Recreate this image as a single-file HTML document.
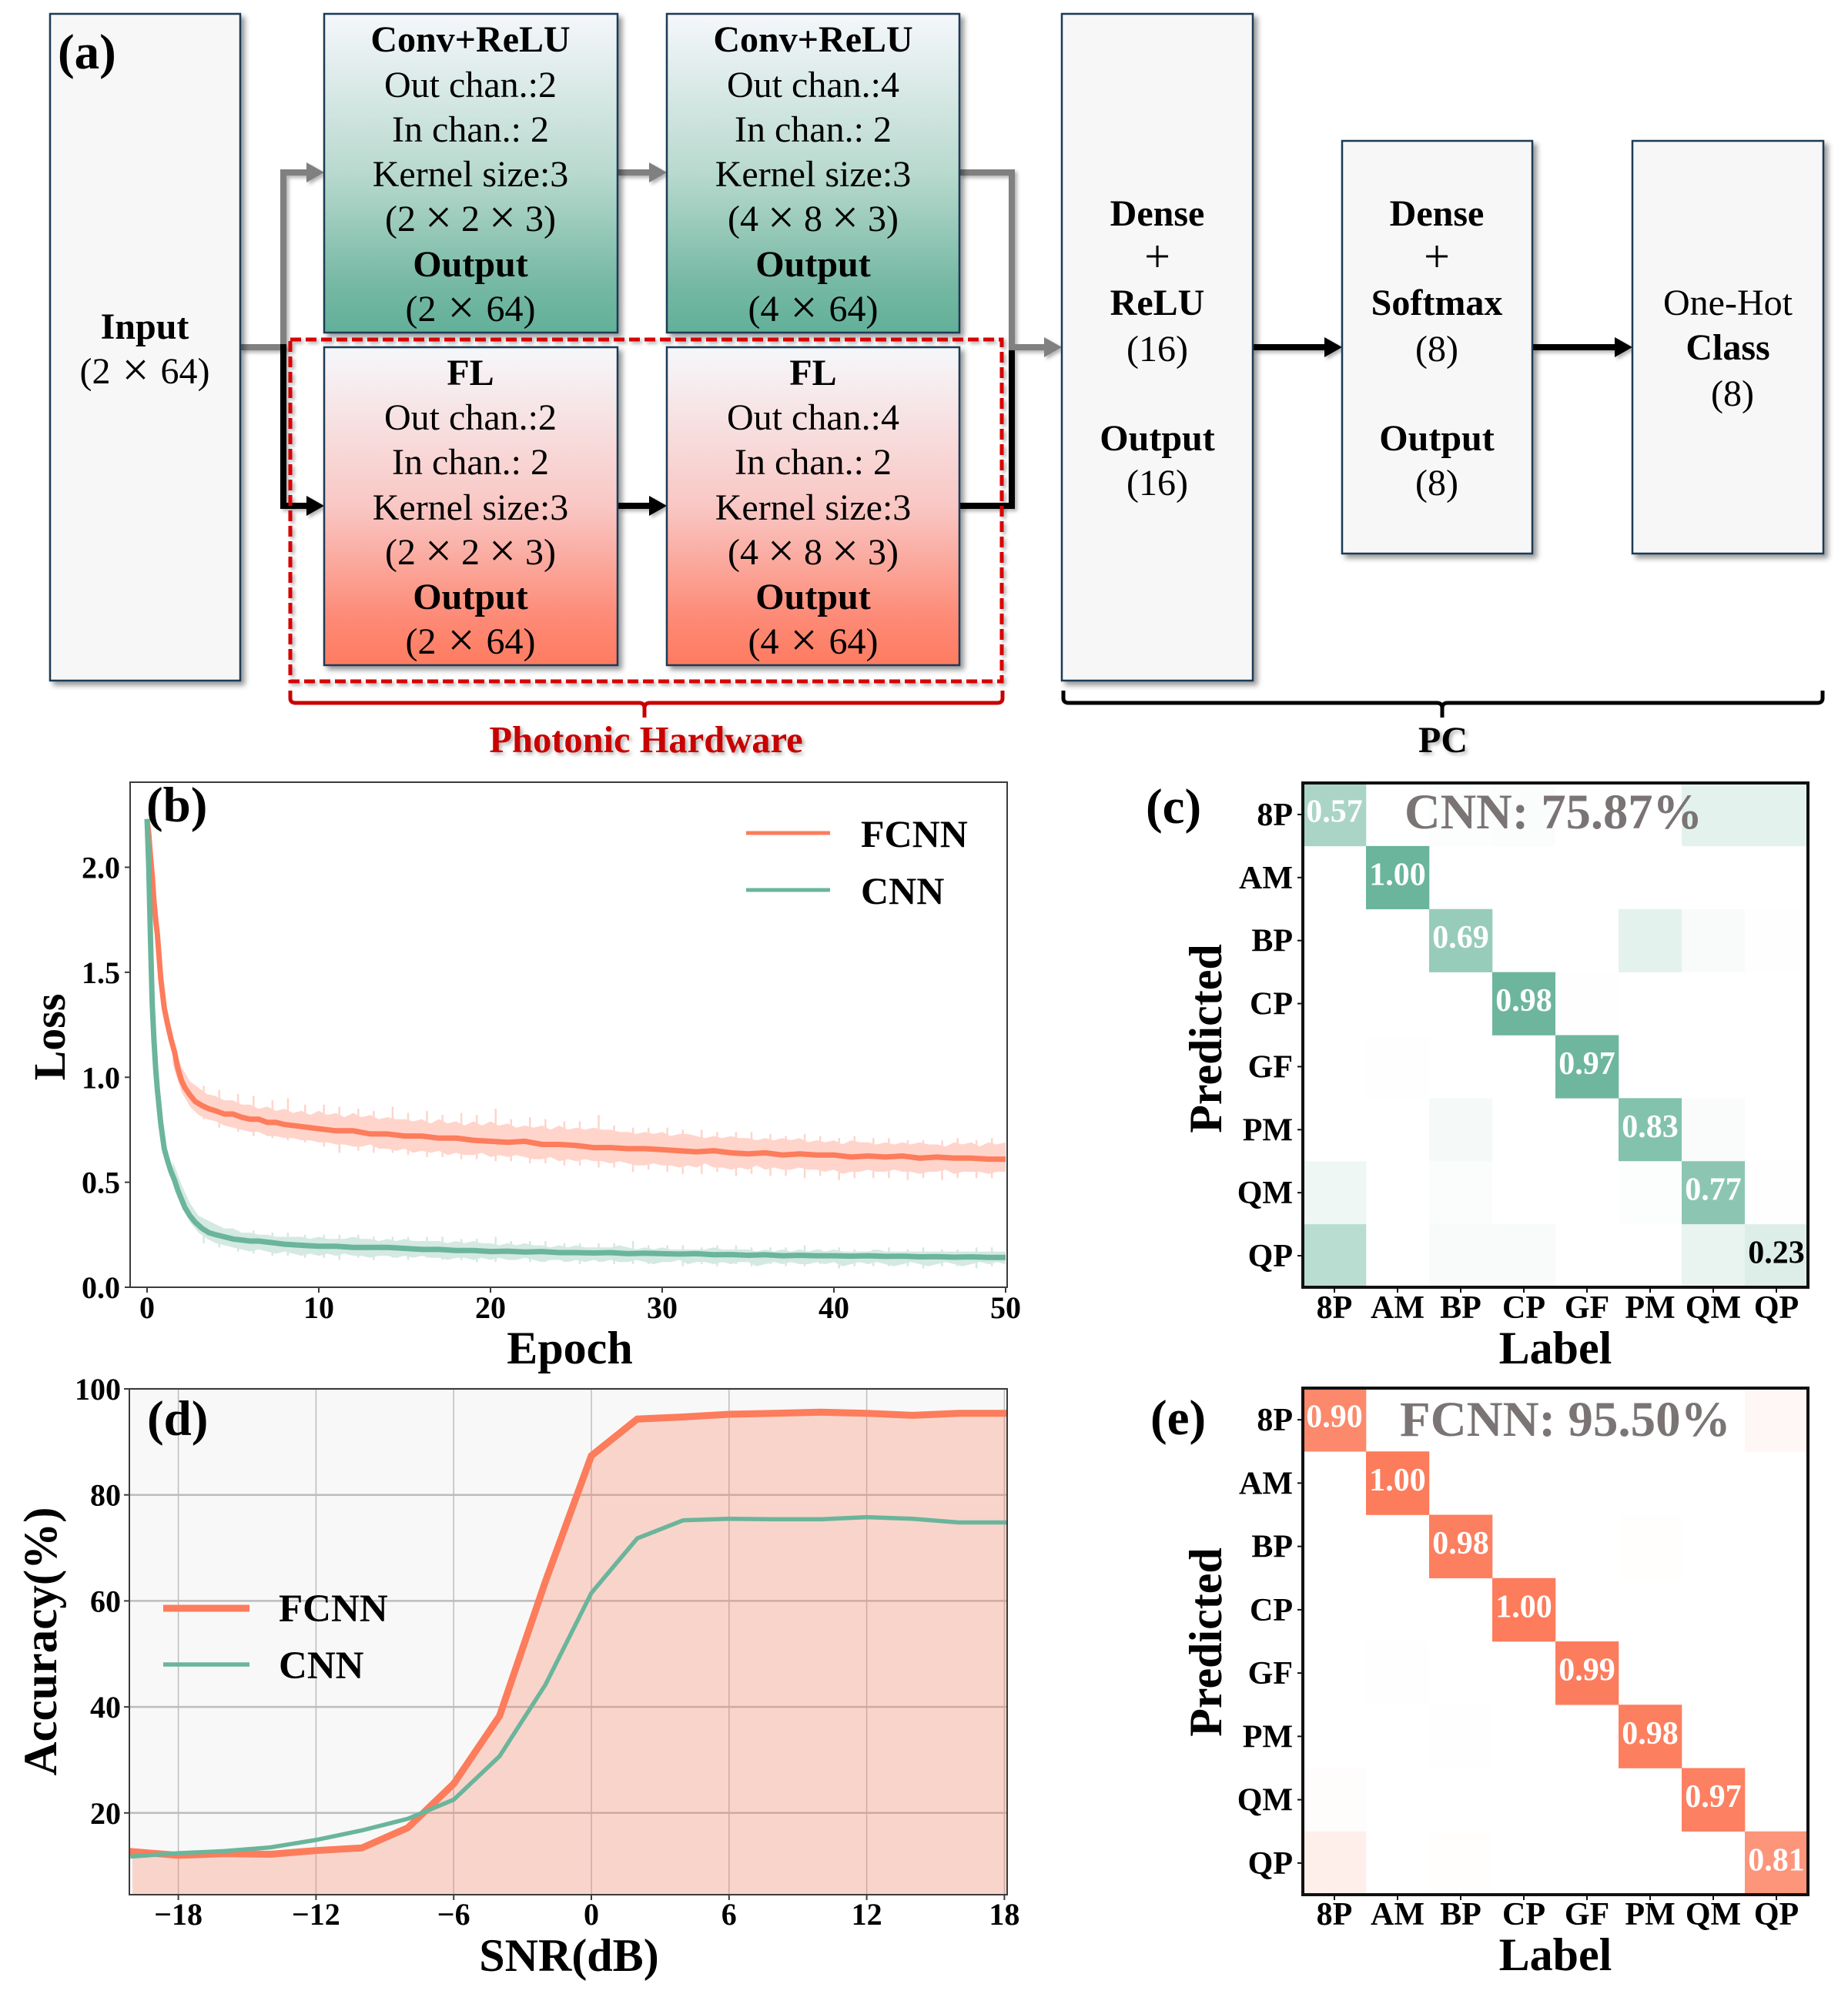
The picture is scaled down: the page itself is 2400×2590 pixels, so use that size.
<!DOCTYPE html>
<html lang="en">
<head>
<meta charset="utf-8">
<title>FCNN and CNN architecture and results</title>
<style>
html,body{margin:0;padding:0;background:#fff;}
svg{display:block;}
text{font-family:"Liberation Serif","Times New Roman",serif;fill:#000;}
.b{font-weight:bold;}
.box text,.lbl{font-size:48px;text-anchor:middle;}
.x{font-size:62px;baseline-shift:-3px;}
.sp{word-spacing:3px;}
</style>
</head>
<body>
<svg id="figure" xmlns="http://www.w3.org/2000/svg" width="2400" height="2590" viewBox="0 0 2400 2590">
<defs>
<linearGradient id="gradConv" x1="0" y1="0" x2="0" y2="1"><stop offset="0" stop-color="#F5F7FB"/><stop offset="0.5" stop-color="#B8D9CE"/><stop offset="0.85" stop-color="#75B8A3"/><stop offset="1" stop-color="#62B098"/></linearGradient>
<linearGradient id="gradFl" x1="0" y1="0" x2="0" y2="1"><stop offset="0" stop-color="#F5F7FB"/><stop offset="0.5" stop-color="#F9C7C4"/><stop offset="0.85" stop-color="#FD8A76"/><stop offset="1" stop-color="#FF7B60"/></linearGradient>
<filter id="shadow" x="-10%" y="-10%" width="125%" height="125%"><feDropShadow dx="5" dy="5" stdDeviation="3.5" flood-color="#000" flood-opacity="0.4"/></filter>
<filter id="lineShadow" x="-10%" y="-20%" width="125%" height="150%"><feDropShadow dx="3" dy="3" stdDeviation="2.5" flood-color="#000" flood-opacity="0.3"/></filter>
<clipPath id="clipB"><rect x="169" y="1016" width="1139" height="656"/></clipPath>
<clipPath id="clipD"><rect x="168" y="1804" width="1140" height="657"/></clipPath>
</defs>

<g id="panel-a">
  <g filter="url(#lineShadow)" fill="none" stroke="#808080" stroke-width="8">
    <polyline points="312,451 368,451 368,224 402,224"/>
    <line x1="802" y1="224" x2="846" y2="224"/>
    <polyline points="1246,224 1314,224 1314,451 1360,451"/>
    <polygon points="398,211 421,224 398,237" fill="#808080" stroke="none"/>
    <polygon points="843,211 866,224 843,237" fill="#808080" stroke="none"/>
    <polygon points="1356,438 1379,451 1356,464" fill="#808080" stroke="none"/>
  </g>
  <g fill="none" stroke="#000" stroke-width="8" filter="url(#lineShadow)">
    <polyline points="368,447 368,657 402,657"/>
    <line x1="802" y1="657" x2="846" y2="657"/>
    <polyline points="1246,657 1314,657 1314,455"/>
    <polygon points="398,644 421,657 398,670" fill="#000" stroke="none"/>
    <polygon points="843,644 866,657 843,670" fill="#000" stroke="none"/>
    <line x1="1627" y1="451" x2="1725" y2="451"/>
    <polygon points="1720,438 1743,451 1720,464" fill="#000" stroke="none"/>
    <line x1="1990" y1="451" x2="2100" y2="451"/>
    <polygon points="2097,438 2120,451 2097,464" fill="#000" stroke="none"/>
  </g>

  <g class="box">
    <rect x="65" y="18" width="247" height="866" fill="#F7F7F7" stroke="#1D3A56" stroke-width="2.5" filter="url(#shadow)"/>
    <text class="b" x="188" y="440">Input</text>
    <text class="sp" x="188" y="498">(2 <tspan class="x">×</tspan> 64)</text>
  </g>
  <text class="b" x="75" y="89" font-size="65">(a)</text>

  <g class="box">
    <rect x="421" y="18" width="381" height="414" fill="url(#gradConv)" stroke="#1D3A56" stroke-width="2.5" filter="url(#shadow)"/>
    <text class="b" x="611" y="67">Conv+ReLU</text>
    <text x="611" y="126">Out chan.:2</text>
    <text x="611" y="184">In chan.: 2</text>
    <text x="611" y="242">Kernel size:3</text>
    <text x="611" y="300">(2 <tspan class="x">×</tspan> 2 <tspan class="x">×</tspan> 3)</text>
    <text class="b" x="611" y="359">Output</text>
    <text class="sp" x="611" y="417">(2 <tspan class="x">×</tspan> 64)</text>
  </g>
  <g class="box">
    <rect x="866" y="18" width="380" height="414" fill="url(#gradConv)" stroke="#1D3A56" stroke-width="2.5" filter="url(#shadow)"/>
    <text class="b" x="1056" y="67">Conv+ReLU</text>
    <text x="1056" y="126">Out chan.:4</text>
    <text x="1056" y="184">In chan.: 2</text>
    <text x="1056" y="242">Kernel size:3</text>
    <text x="1056" y="300">(4 <tspan class="x">×</tspan> 8 <tspan class="x">×</tspan> 3)</text>
    <text class="b" x="1056" y="359">Output</text>
    <text class="sp" x="1056" y="417">(4 <tspan class="x">×</tspan> 64)</text>
  </g>
  <g class="box">
    <rect x="421" y="451" width="381" height="413" fill="url(#gradFl)" stroke="#1D3A56" stroke-width="2.5" filter="url(#shadow)"/>
    <text class="b" x="611" y="500">FL</text>
    <text x="611" y="558">Out chan.:2</text>
    <text x="611" y="616">In chan.: 2</text>
    <text x="611" y="675">Kernel size:3</text>
    <text x="611" y="733">(2 <tspan class="x">×</tspan> 2 <tspan class="x">×</tspan> 3)</text>
    <text class="b" x="611" y="791">Output</text>
    <text class="sp" x="611" y="849">(2 <tspan class="x">×</tspan> 64)</text>
  </g>
  <g class="box">
    <rect x="866" y="451" width="380" height="413" fill="url(#gradFl)" stroke="#1D3A56" stroke-width="2.5" filter="url(#shadow)"/>
    <text class="b" x="1056" y="500">FL</text>
    <text x="1056" y="558">Out chan.:4</text>
    <text x="1056" y="616">In chan.: 2</text>
    <text x="1056" y="675">Kernel size:3</text>
    <text x="1056" y="733">(4 <tspan class="x">×</tspan> 8 <tspan class="x">×</tspan> 3)</text>
    <text class="b" x="1056" y="791">Output</text>
    <text class="sp" x="1056" y="849">(4 <tspan class="x">×</tspan> 64)</text>
  </g>

  <rect x="377" y="441" width="924" height="444" fill="none" stroke="#D80000" stroke-width="5" stroke-dasharray="14 6" filter="url(#lineShadow)"/>
  <path d="M377 897 V907 Q377 913 384 913 H830 Q837 913 837 920 V932 M837 920 Q837 913 844 913 H1295 Q1302 913 1302 907 V897" fill="none" stroke="#C80000" stroke-width="5"/>
  <text class="b" x="839" y="977" font-size="48.5" text-anchor="middle" style="fill:#C80000" filter="url(#lineShadow)">Photonic Hardware</text>

  <g class="box">
    <rect x="1379" y="18" width="248" height="866" fill="#F7F7F7" stroke="#1D3A56" stroke-width="2.5" filter="url(#shadow)"/>
    <text class="b" x="1503" y="293">Dense</text>
    <text x="1503" y="353" style="font-size:60px">+</text>
    <text class="b" x="1503" y="409">ReLU</text>
    <text x="1503" y="469">(16)</text>
    <text class="b" x="1503" y="585">Output</text>
    <text x="1503" y="643">(16)</text>
  </g>
  <g class="box">
    <rect x="1743" y="183" width="247" height="536" fill="#F7F7F7" stroke="#1D3A56" stroke-width="2.5" filter="url(#shadow)"/>
    <text class="b" x="1866" y="293">Dense</text>
    <text x="1866" y="353" style="font-size:60px">+</text>
    <text class="b" x="1866" y="409">Softmax</text>
    <text x="1866" y="469">(8)</text>
    <text class="b" x="1866" y="585">Output</text>
    <text x="1866" y="643">(8)</text>
  </g>
  <g class="box">
    <rect x="2120" y="183" width="248" height="536" fill="#F7F7F7" stroke="#1D3A56" stroke-width="2.5" filter="url(#shadow)"/>
    <text x="2244" y="409">One-Hot</text>
    <text class="b" x="2244" y="467">Class</text>
    <text x="2250" y="527">(8)</text>
  </g>
  <path d="M1381 897 V907 Q1381 913 1388 913 H1866 Q1873 913 1873 920 V932 M1873 920 Q1873 913 1880 913 H2360 Q2367 913 2367 907 V897" fill="none" stroke="#000" stroke-width="5"/>
  <text class="b" x="1874" y="977" font-size="48" text-anchor="middle" filter="url(#lineShadow)">PC</text>
</g>

<g id="panel-b"></g>
<g id="panel-c"></g>
<g id="panel-d"></g>
<g id="panel-e"></g>
</svg>

<script>
/* ---------- panel (b) data ---------- */
const lossEpochTicks = [0, 10, 20, 30, 40, 50];
const lossValueTicks = [0.0, 0.5, 1.0, 1.5, 2.0];
const meanEpochs = [0,0.1,0.2,0.3,0.4,0.5,0.6,0.8,1,1.2,1.4,1.6,1.8,2,2.2,2.5,2.8,3.2,3.6,4,4.5,5,5.5,6,6.5,7,7.5,8,9,10,11,12,13,14,15,16,17,18,19,20,21,22,23,24,25,26,27,28,29,30,31,32,33,34,35,36,37,38,39,40,41,42,43,44,45,46,47,48,49,50];
const fcnnMeanLoss = [2.23,2.16,2.05,1.96,1.84,1.75,1.68,1.47,1.33,1.25,1.18,1.12,1.04,0.985,0.95,0.915,0.885,0.865,0.85,0.84,0.825,0.825,0.81,0.80,0.80,0.785,0.785,0.775,0.765,0.755,0.745,0.745,0.73,0.73,0.72,0.72,0.71,0.71,0.70,0.695,0.69,0.695,0.68,0.68,0.675,0.665,0.665,0.66,0.66,0.655,0.65,0.645,0.65,0.64,0.635,0.64,0.63,0.635,0.63,0.63,0.62,0.625,0.62,0.625,0.615,0.62,0.615,0.615,0.61,0.61];
const cnnMeanLoss = [2.23,2.0,1.65,1.35,1.18,1.04,0.94,0.78,0.66,0.60,0.55,0.51,0.46,0.42,0.38,0.34,0.31,0.28,0.26,0.25,0.24,0.23,0.225,0.22,0.22,0.215,0.21,0.205,0.20,0.195,0.195,0.19,0.19,0.19,0.185,0.18,0.18,0.175,0.175,0.17,0.172,0.168,0.17,0.165,0.165,0.163,0.165,0.16,0.162,0.16,0.158,0.16,0.155,0.156,0.152,0.155,0.15,0.152,0.15,0.15,0.148,0.15,0.147,0.148,0.145,0.146,0.143,0.145,0.142,0.142];
const bandEpochs = [1.5,2,2.5,3,3.5,4,4.5,5,5.5,6,6.5,7,7.5,8,8.5,9,9.5,10,10.5,11,11.5,12,12.5,13,13.5,14,14.5,15,15.5,16,16.5,17,17.5,18,18.5,19,19.5,20,20.5,21,21.5,22,22.5,23,23.5,24,24.5,25,25.5,26,26.5,27,27.5,28,28.5,29,29.5,30,30.5,31,31.5,32,32.5,33,33.5,34,34.5,35,35.5,36,36.5,37,37.5,38,38.5,39,39.5,40,40.5,41,41.5,42,42.5,43,43.5,44,44.5,45,45.5,46,46.5,47,47.5,48,48.5,49,49.5,50];
const fcnnUpperLoss = [1.16,1.05,0.98,0.95,0.92,0.91,0.89,0.89,0.87,0.87,0.85,0.86,0.84,0.85,0.83,0.84,0.82,0.84,0.82,0.83,0.81,0.83,0.81,0.82,0.80,0.81,0.80,0.80,0.79,0.80,0.78,0.80,0.78,0.79,0.77,0.79,0.77,0.79,0.77,0.78,0.76,0.77,0.76,0.77,0.75,0.77,0.75,0.76,0.75,0.76,0.75,0.75,0.74,0.74,0.73,0.74,0.73,0.74,0.72,0.73,0.73,0.72,0.71,0.72,0.71,0.72,0.71,0.71,0.70,0.71,0.70,0.71,0.70,0.71,0.69,0.70,0.69,0.70,0.68,0.70,0.69,0.69,0.68,0.69,0.68,0.69,0.68,0.69,0.68,0.68,0.67,0.69,0.68,0.69,0.67,0.69,0.68,0.69];
const fcnnLowerLoss = [1.06,0.93,0.86,0.82,0.80,0.79,0.77,0.76,0.75,0.74,0.74,0.72,0.72,0.71,0.71,0.70,0.70,0.69,0.69,0.68,0.68,0.67,0.67,0.68,0.66,0.66,0.65,0.66,0.64,0.65,0.64,0.65,0.63,0.64,0.63,0.63,0.64,0.62,0.63,0.62,0.63,0.62,0.61,0.61,0.62,0.60,0.61,0.60,0.61,0.60,0.60,0.59,0.60,0.59,0.58,0.58,0.59,0.58,0.58,0.57,0.58,0.57,0.59,0.57,0.57,0.56,0.57,0.56,0.58,0.56,0.57,0.56,0.56,0.57,0.56,0.56,0.55,0.56,0.54,0.55,0.55,0.56,0.55,0.55,0.56,0.55,0.55,0.54,0.55,0.55,0.56,0.54,0.55,0.55,0.55,0.54,0.55,0.55];
const cnnUpperLoss = [0.60,0.49,0.40,0.34,0.32,0.30,0.28,0.28,0.26,0.26,0.25,0.25,0.24,0.24,0.24,0.24,0.23,0.24,0.23,0.23,0.23,0.24,0.23,0.23,0.22,0.23,0.22,0.23,0.22,0.22,0.22,0.22,0.21,0.22,0.21,0.22,0.21,0.21,0.20,0.21,0.20,0.21,0.20,0.20,0.19,0.20,0.19,0.20,0.19,0.19,0.19,0.19,0.20,0.19,0.18,0.19,0.18,0.19,0.18,0.18,0.18,0.18,0.18,0.19,0.18,0.18,0.18,0.18,0.17,0.18,0.17,0.18,0.17,0.18,0.17,0.18,0.17,0.18,0.17,0.17,0.17,0.17,0.18,0.17,0.17,0.17,0.17,0.17,0.17,0.17,0.17,0.17,0.17,0.17,0.17,0.17,0.17,0.17];
const cnnLowerLoss = [0.50,0.39,0.31,0.26,0.23,0.21,0.20,0.19,0.18,0.17,0.18,0.17,0.16,0.17,0.16,0.15,0.16,0.15,0.16,0.15,0.16,0.15,0.15,0.14,0.15,0.15,0.14,0.15,0.14,0.15,0.14,0.14,0.13,0.14,0.14,0.13,0.14,0.13,0.14,0.13,0.13,0.14,0.13,0.12,0.13,0.13,0.12,0.13,0.12,0.13,0.12,0.13,0.12,0.12,0.13,0.12,0.11,0.12,0.12,0.13,0.11,0.12,0.12,0.11,0.12,0.11,0.12,0.12,0.10,0.11,0.12,0.11,0.12,0.11,0.11,0.12,0.11,0.12,0.10,0.11,0.12,0.11,0.12,0.11,0.10,0.11,0.12,0.11,0.10,0.11,0.12,0.11,0.10,0.11,0.12,0.11,0.12,0.11];
const spikeEpochs = [3.3,4.2,5.3,6.2,7.3,8.2,9.2,10.3,11.2,12.3,13.2,14.3,15.2,16.3,17.2,18.3,19.2,20.3,21.2,22.3,23.2,24.3,25.2,26.3,27.2,28.3,29.2,30.3,31.2,32.3,33.2,34.3,35.2,36.3,37.2,38.3,39.2,40.3,41.2,42.3,43.2,44.3,45.2,46.3,47.2,48.3,49.2];
const fcnnSpikeHigh = [0.96,0.94,0.92,0.91,0.89,0.90,0.87,0.87,0.86,0.85,0.84,0.86,0.83,0.84,0.82,0.83,0.82,0.85,0.80,0.81,0.80,0.79,0.79,0.82,0.77,0.76,0.76,0.76,0.75,0.75,0.74,0.74,0.74,0.73,0.72,0.73,0.72,0.71,0.72,0.71,0.71,0.70,0.70,0.70,0.71,0.70,0.71];
const fcnnSpikeLow = [0.80,0.76,0.74,0.72,0.71,0.70,0.69,0.67,0.64,0.65,0.64,0.64,0.63,0.62,0.62,0.61,0.61,0.60,0.60,0.59,0.59,0.58,0.58,0.57,0.57,0.55,0.56,0.55,0.54,0.54,0.55,0.53,0.54,0.53,0.53,0.52,0.53,0.51,0.52,0.52,0.52,0.51,0.52,0.51,0.52,0.52,0.52];
const cnnSpikeHigh = [0.31,0.29,0.27,0.27,0.26,0.26,0.25,0.25,0.25,0.25,0.24,0.24,0.24,0.24,0.24,0.23,0.23,0.24,0.22,0.22,0.22,0.21,0.21,0.21,0.21,0.22,0.20,0.20,0.20,0.19,0.20,0.20,0.19,0.19,0.19,0.20,0.18,0.19,0.18,0.18,0.19,0.18,0.19,0.18,0.18,0.19,0.19];
const cnnSpikeLow = [0.21,0.19,0.17,0.16,0.15,0.15,0.14,0.14,0.13,0.14,0.13,0.14,0.13,0.14,0.13,0.13,0.12,0.12,0.13,0.12,0.12,0.12,0.11,0.12,0.11,0.11,0.11,0.12,0.10,0.11,0.10,0.11,0.10,0.11,0.10,0.10,0.11,0.09,0.10,0.10,0.10,0.10,0.09,0.10,0.10,0.09,0.10];

/* ---------- panel (d) data ---------- */
const snrValues = [-20,-18,-16,-14,-12,-10,-8,-6,-4,-2,0,2,4,6,8,10,12,14,16,18];
const fcnnAccuracy = [12.7,12.0,12.3,12.2,12.9,13.4,17.2,25.5,38.3,63.7,87.4,94.3,94.7,95.2,95.4,95.6,95.4,95.0,95.4,95.4];
const cnnAccuracy = [11.8,12.4,12.8,13.5,14.9,16.7,18.9,22.5,30.7,44.2,61.5,71.8,75.2,75.5,75.4,75.4,75.8,75.5,74.8,74.8];
const snrTicks = [-18,-12,-6,0,6,12,18];
const accuracyTicks = [20,40,60,80,100];

/* ---------- panels (c) and (e) data ---------- */
const classLabels = ['8P','AM','BP','CP','GF','PM','QM','QP'];
const cnnMatrix = [
  [0.57,0,0.02,0.03,0,0,0.18,0.18],
  [0,1.00,0,0,0,0,0,0],
  [0,0,0.69,0,0,0.18,0.05,0.01],
  [0,0,0,0.98,0.01,0,0,0],
  [0,0.01,0,0,0.97,0,0,0],
  [0,0,0.07,0,0,0.83,0.04,0],
  [0.11,0,0.03,0,0,0.02,0.77,0.01],
  [0.46,0,0.05,0.05,0,0,0.15,0.23]
];
const fcnnMatrix = [
  [0.90,0,0,0,0,0,0,0.06],
  [0,1.00,0,0,0,0,0,0],
  [0,0,0.98,0,0,0.01,0,0],
  [0,0,0,1.00,0,0,0,0],
  [0,0.005,0,0,0.99,0,0,0],
  [0,0,0.005,0,0,0.98,0,0],
  [0.02,0,0,0,0,0,0.97,0],
  [0.12,0,0.01,0,0,0,0,0.81]
];

const SVGNS = 'http://www.w3.org/2000/svg';
const CORAL = '#FC7C5C';
const GREEN = '#6AB59B';

function make(parent, tag, attrs, content) {
  const node = document.createElementNS(SVGNS, tag);
  for (const key in attrs) node.setAttribute(key, attrs[key]);
  if (content !== undefined) node.textContent = content;
  parent.appendChild(node);
  return node;
}
function pointsOf(xs, ys, xFn, yFn) {
  return xs.map((x, i) => xFn(x).toFixed(1) + ',' + yFn(ys[i]).toFixed(1)).join(' ');
}

/* ---------- panel (b) ---------- */
(function () {
  const g = document.getElementById('panel-b');
  const L = 169, R = 1308, T = 1016, B = 1672;
  const xE = e => 191 + 22.3 * e;
  const yL = v => B - 272.75 * v;
  const spikePath = (hi, lo) => spikeEpochs.map((e, i) => 'M' + xE(e).toFixed(1) + ' ' + yL(hi[i]).toFixed(1) + 'V' + yL(lo[i]).toFixed(1)).join('');

  const fb = make(g, 'polygon', {points: pointsOf(bandEpochs, fcnnUpperLoss, xE, yL) + ' ' + pointsOf(bandEpochs.slice().reverse(), fcnnLowerLoss.slice().reverse(), xE, yL), fill: '#FFD4CB', 'clip-path': 'url(#clipB)'});
  
  
  const fs = make(g, 'path', {d: spikePath(fcnnSpikeHigh, fcnnSpikeLow), fill: 'none', stroke: '#FFD4CB', 'stroke-width': 2.5, 'clip-path': 'url(#clipB)'});
  
  
  const cb = make(g, 'polygon', {points: pointsOf(bandEpochs, cnnUpperLoss, xE, yL) + ' ' + pointsOf(bandEpochs.slice().reverse(), cnnLowerLoss.slice().reverse(), xE, yL), fill: '#D4E9E2', 'clip-path': 'url(#clipB)'});
  
  
  const cs = make(g, 'path', {d: spikePath(cnnSpikeHigh, cnnSpikeLow), fill: 'none', stroke: '#D4E9E2', 'stroke-width': 2.5, 'clip-path': 'url(#clipB)'});
  
  
  const fl = make(g, 'polyline', {points: pointsOf(meanEpochs, fcnnMeanLoss, xE, yL), fill: 'none', stroke: CORAL, 'stroke-width': 7, 'clip-path': 'url(#clipB)'});
  
  
  const cl = make(g, 'polyline', {points: pointsOf(meanEpochs, cnnMeanLoss, xE, yL), fill: 'none', stroke: GREEN, 'stroke-width': 7, 'clip-path': 'url(#clipB)'});
  
  

  const frame = make(g, 'rect', {x: L, y: T, width: R - L, height: B - T, fill: 'none', stroke: '#3c3c3c', 'stroke-width': 2});
  
  

  lossEpochTicks.forEach(t => {
    const tick = make(g, 'line', {x1: xE(t), x2: xE(t), y1: B, y2: B + 7, stroke: '#3c3c3c', 'stroke-width': 2});
    
    
    const label = make(g, 'text', {x: xE(t), y: 1712, 'font-size': 40, 'font-weight': 'bold', 'text-anchor': 'middle'}, String(t));
    
    
  });
  lossValueTicks.forEach(t => {
    const tick = make(g, 'line', {x1: L - 7, x2: L, y1: yL(t), y2: yL(t), stroke: '#3c3c3c', 'stroke-width': 2});
    
    
    const label = make(g, 'text', {x: 156, y: yL(t) + 14, 'font-size': 40, 'font-weight': 'bold', 'text-anchor': 'end'}, t.toFixed(1));
    
    
  });
  const xt = make(g, 'text', {x: 740, y: 1771, 'font-size': 60, 'font-weight': 'bold', 'text-anchor': 'middle'}, 'Epoch');
  
  
  const yt = make(g, 'text', {x: 0, y: 0, 'font-size': 58, 'font-weight': 'bold', 'text-anchor': 'middle', transform: 'translate(84 1347) rotate(-90)'}, 'Loss');
  
  
  const pl = make(g, 'text', {x: 190, y: 1067, 'font-size': 65, 'font-weight': 'bold'}, '(b)');
  
  

  const l1 = make(g, 'line', {x1: 969, x2: 1078, y1: 1082, y2: 1082, stroke: CORAL, 'stroke-width': 5});
  
  
  const t1 = make(g, 'text', {x: 1118, y: 1100, 'font-size': 50, 'font-weight': 'bold'}, 'FCNN');
  
  
  const l2 = make(g, 'line', {x1: 969, x2: 1078, y1: 1156, y2: 1156, stroke: GREEN, 'stroke-width': 5});
  
  
  const t2 = make(g, 'text', {x: 1118, y: 1174, 'font-size': 50, 'font-weight': 'bold'}, 'CNN');
  
  
})();

/* ---------- panel (d) ---------- */
(function () {
  const g = document.getElementById('panel-d');
  const L = 168, R = 1308, T = 1804, B = 2461;
  const xS = s => 768 + 29.8 * s;
  const yA = v => T + (100 - v) * 6.885;

  const bg = make(g, 'rect', {x: L, y: T, width: R - L, height: B - T, fill: '#F8F8F8'});
  
  

  snrTicks.forEach(t => {
    const grid = make(g, 'line', {x1: xS(t), x2: xS(t), y1: T, y2: B, stroke: '#BDBDBD', 'stroke-width': 1.5});
    
    
  });
  accuracyTicks.forEach(t => {
    const grid = make(g, 'line', {x1: L, x2: R, y1: yA(t), y2: yA(t), stroke: '#BDBDBD', 'stroke-width': 2.5});
    
    
  });

  const baseline = yA(4.6);
  const lastIndex = snrValues.length - 1;
  const area = make(g, 'polygon', {points: xS(snrValues[0]).toFixed(1) + ',' + baseline + ' ' + pointsOf(snrValues, fcnnAccuracy, xS, yA) + ' ' + R + ',' + yA(fcnnAccuracy[lastIndex]).toFixed(1) + ' ' + R + ',' + baseline, fill: CORAL, 'fill-opacity': 0.29, 'clip-path': 'url(#clipD)'});
  
  
  const fl = make(g, 'polyline', {points: pointsOf(snrValues, fcnnAccuracy, xS, yA), fill: 'none', stroke: CORAL, 'stroke-width': 9, 'stroke-linecap': 'square', 'clip-path': 'url(#clipD)'});
  
  
  const cl = make(g, 'polyline', {points: pointsOf(snrValues, cnnAccuracy, xS, yA), fill: 'none', stroke: GREEN, 'stroke-width': 5.5, 'stroke-linecap': 'square', 'clip-path': 'url(#clipD)'});
  
  

  const frame = make(g, 'rect', {x: L, y: T, width: R - L, height: B - T, fill: 'none', stroke: '#3c3c3c', 'stroke-width': 2});
  
  

  snrTicks.forEach(t => {
    const tick = make(g, 'line', {x1: xS(t), x2: xS(t), y1: B, y2: B + 7, stroke: '#3c3c3c', 'stroke-width': 2});
    
    
    const label = make(g, 'text', {x: xS(t), y: 2500, 'font-size': 40, 'font-weight': 'bold', 'text-anchor': 'middle'}, String(t).replace('-', '\u2212'));
    
    
  });
  accuracyTicks.forEach(t => {
    const tick = make(g, 'line', {x1: L - 7, x2: L, y1: yA(t), y2: yA(t), stroke: '#3c3c3c', 'stroke-width': 2});
    
    
    const label = make(g, 'text', {x: 157, y: yA(t) + 14, 'font-size': 40, 'font-weight': 'bold', 'text-anchor': 'end'}, String(t));
    
    
  });
  const xt = make(g, 'text', {x: 739, y: 2560, 'font-size': 60, 'font-weight': 'bold', 'text-anchor': 'middle'}, 'SNR(dB)');
  
  
  const yt = make(g, 'text', {x: 0, y: 0, 'font-size': 61, 'font-weight': 'bold', 'text-anchor': 'middle', transform: 'translate(73 2132) rotate(-90)'}, 'Accuracy(%)');
  
  
  const pl = make(g, 'text', {x: 191, y: 1864, 'font-size': 65, 'font-weight': 'bold'}, '(d)');
  
  

  const l1 = make(g, 'line', {x1: 212, x2: 324, y1: 2089, y2: 2089, stroke: CORAL, 'stroke-width': 9});
  
  
  const t1 = make(g, 'text', {x: 362, y: 2106, 'font-size': 51, 'font-weight': 'bold'}, 'FCNN');
  
  
  const l2 = make(g, 'line', {x1: 212, x2: 324, y1: 2162, y2: 2162, stroke: GREEN, 'stroke-width': 5.5});
  
  
  const t2 = make(g, 'text', {x: 362, y: 2180, 'font-size': 51, 'font-weight': 'bold'}, 'CNN');
  
  
})();

/* ---------- panels (c) and (e) ---------- */
function drawMatrix(opts) {
  const g = opts.group;
  const L = 1692, R = 2348, T = opts.top, B = opts.bottom;
  const cw = (R - L) / classLabels.length;
  const ch = (B - T) / classLabels.length;
  const mix = v => {
    const c = opts.rgb.map(k => Math.round(255 - (255 - k) * v));
    return 'rgb(' + c.join(',') + ')';
  };
  const bg = make(g, 'rect', {x: L, y: T, width: R - L, height: B - T, fill: '#fff'});
  
  

  opts.matrix.forEach((row, r) => {
    row.forEach((v, c) => {
      if (v <= 0) return;
      const cell = make(g, 'rect', {x: L + c * cw, y: T + r * ch, width: cw + 0.3, height: ch + 0.3, fill: mix(v)});
      
      
    });
  });
  const title = make(g, 'text', {x: opts.titleX, y: opts.titleY, 'font-size': opts.titleSize, 'font-weight': 'bold', style: 'fill:#7A7574'}, opts.title);
  
  

  opts.matrix.forEach((row, r) => {
    const v = row[r];
    const txt = make(g, 'text', {x: L + r * cw + cw / 2, y: T + r * ch + ch / 2 + 9.5, 'font-size': 42, 'font-weight': 'bold', 'text-anchor': 'middle', style: 'fill:' + (v < 0.3 ? '#000' : '#fff')}, v.toFixed(2));
    
    
  });
  const frame = make(g, 'rect', {x: L, y: T, width: R - L, height: B - T, fill: 'none', stroke: '#111', 'stroke-width': 4});
  
  

  classLabels.forEach((name, i) => {
    const cx = L + i * cw + cw / 2;
    const cy = T + i * ch + ch / 2;
    const xTick = make(g, 'line', {x1: cx, x2: cx, y1: B, y2: B + 7, stroke: '#111', 'stroke-width': 2});
    
    
    const yTick = make(g, 'line', {x1: L - 7, x2: L, y1: cy, y2: cy, stroke: '#111', 'stroke-width': 2});
    
    
    const xLab = make(g, 'text', {x: cx, y: opts.xLabelY, 'font-size': 42, 'font-weight': 'bold', 'text-anchor': 'middle'}, name);
    
    
    const yLab = make(g, 'text', {x: 1679, y: cy + 14, 'font-size': 42, 'font-weight': 'bold', 'text-anchor': 'end'}, name);
    
    
  });
  const xt = make(g, 'text', {x: 2020, y: opts.xTitleY, 'font-size': 60, 'font-weight': 'bold', 'text-anchor': 'middle'}, 'Label');
  
  
  const yt = make(g, 'text', {x: 0, y: 0, 'font-size': 60, 'font-weight': 'bold', 'text-anchor': 'middle', transform: 'translate(1586 ' + opts.yTitleY + ') rotate(-90)'}, 'Predicted');
  
  
  const pl = make(g, 'text', {x: opts.panelX, y: opts.panelY, 'font-size': 65, 'font-weight': 'bold'}, opts.panel);
  
  
}

drawMatrix({
  group: document.getElementById('panel-c'), matrix: cnnMatrix, rgb: [106, 181, 155],
  top: 1017, bottom: 1672, title: 'CNN: 75.87%', titleX: 1824, titleY: 1076, titleSize: 64.5,
  xLabelY: 1712, xTitleY: 1771, yTitleY: 1349, panel: '(c)', panelX: 1488, panelY: 1069
});
drawMatrix({
  group: document.getElementById('panel-e'), matrix: fcnnMatrix, rgb: [252, 124, 92],
  top: 1803, bottom: 2461, title: 'FCNN: 95.50%', titleX: 1818, titleY: 1865, titleSize: 65,
  xLabelY: 2500, xTitleY: 2559, yTitleY: 2133, panel: '(e)', panelX: 1494, panelY: 1863
});
</script>
</body>
</html>
